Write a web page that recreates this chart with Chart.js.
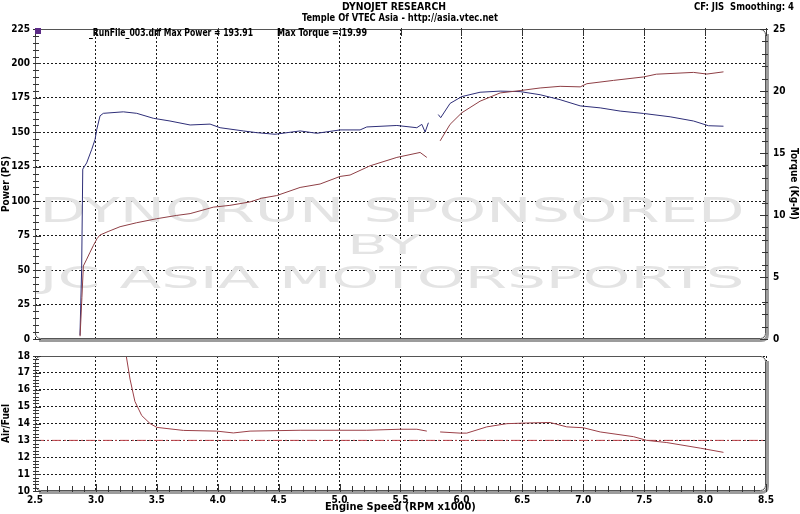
<!DOCTYPE html>
<html>
<head>
<meta charset="utf-8">
<script src="https://cdn.jsdelivr.net/npm/chart.js@4.4.1/dist/chart.umd.min.js"></script>
<style>
    html, body { margin: 0; padding: 0; background: #fff; }
    #wrap { position: relative; width: 800px; height: 514px; overflow: hidden; }
    #topChart { position: absolute; left: 0; top: 0; }
    #afrChart { position: absolute; left: 0; top: 345px; }
</style>
</head>
<body>
<div id="wrap">
    <canvas id="topChart" width="800" height="352"></canvas>
    <canvas id="afrChart" width="800" height="169"></canvas>
</div>
<script>
// [rpm x1000, value] pairs
const powerRun1 = [[2.87, 2], [2.885, 30], [2.897, 53], [2.925, 58], [2.952, 63], [2.98, 68], [3.01, 73],
    [3.034, 75.5], [3.1, 78], [3.198, 81.5], [3.335, 84.4], [3.499, 87.3], [3.663, 89.7], [3.773, 91],
    [3.964, 95.7], [4.1, 97], [4.265, 99.5], [4.361, 102.2], [4.484, 104.1], [4.676, 110], [4.84, 112.5],
    [5.004, 118], [5.086, 119], [5.25, 125.7], [5.47, 131.8], [5.661, 135.4], [5.716, 131.8]];
const powerRun2 = [[5.825, 143.8], [5.907, 155.8], [6.003, 164.2], [6.153, 172.6], [6.318, 178.6],
    [6.482, 180.3], [6.646, 182.2], [6.81, 183.4], [6.975, 183], [7.03, 185.3], [7.248, 187.7],
    [7.494, 190.2], [7.6, 192.2], [7.905, 193.5], [8.015, 192.3], [8.151, 193.9]];
const torqueRun1 = [[2.869, 0.3], [2.883, 5.7], [2.892, 13.7], [2.924, 14.2], [2.966, 15.3], [2.993, 16.1],
    [3.007, 16.9], [3.034, 18.0], [3.061, 18.2], [3.225, 18.32], [3.335, 18.2], [3.471, 17.8],
    [3.608, 17.58], [3.773, 17.26], [3.937, 17.33], [4.019, 17.04], [4.21, 16.78], [4.32, 16.64],
    [4.47, 16.51], [4.676, 16.78], [4.813, 16.59], [5.004, 16.86], [5.168, 16.86], [5.223, 17.1],
    [5.47, 17.22], [5.634, 17.04], [5.675, 17.31], [5.702, 16.69], [5.729, 17.44]];
const torqueRun2 = [[5.81, 18.1], [5.83, 17.85], [5.907, 19.0], [6.003, 19.55], [6.153, 19.9],
    [6.318, 19.99], [6.482, 19.95], [6.646, 19.7], [6.81, 19.3], [6.975, 18.8], [7.139, 18.64],
    [7.303, 18.38], [7.494, 18.19], [7.713, 17.92], [7.905, 17.58], [8.028, 17.2], [8.151, 17.16]];
const afrRun1 = [[3.24, 18.4], [3.28, 16.63], [3.32, 15.31], [3.376, 14.47], [3.444, 14.0], [3.5, 13.77],
    [3.718, 13.59], [3.99, 13.55], [4.128, 13.44], [4.265, 13.55], [4.676, 13.6], [5.223, 13.6],
    [5.497, 13.66], [5.634, 13.66], [5.716, 13.55]];
const afrRun2 = [[5.825, 13.5], [5.989, 13.43], [6.044, 13.43], [6.208, 13.8], [6.373, 13.99],
    [6.537, 14.03], [6.728, 14.06], [6.865, 13.8], [7.0, 13.75], [7.139, 13.5], [7.412, 13.22],
    [7.522, 13.0], [7.686, 12.87], [7.96, 12.54], [8.151, 12.29]];
const afrTarget = 13.0;

const rpmRange = [2.5, 8.5];
const powerRange = [0, 225];
const torqueRange = [0, 25];
const afrRange = [10, 18];

const fontFam = '"DejaVu Sans Condensed", "DejaVu Sans", sans-serif';
const boldFont = size => ({ family: fontFam, size: size, weight: 'bold' });
const pts = a => a.map(p => ({ x: p[0], y: p[1] }));

const powerColor = '#8e3f45';
const torqueColor = '#2e2e78';
const afrColor = '#9b4048';

function lineSet(label, data, color, axis) {
    return { label: label, data: pts(data), yAxisID: axis, borderColor: color, borderWidth: 1,
        pointRadius: 0, tension: 0, fill: false };
}

// frame with dark edge plus grey shadow on right/bottom
function drawFrame(ctx, a) {
    const L = a.left, T = a.top, R = a.right, B = a.bottom;
    ctx.save();
    ctx.strokeStyle = '#9c9c9c';
    ctx.lineWidth = 3;
    ctx.beginPath();
    ctx.moveTo(R + 1.5, T + 5);
    ctx.lineTo(R + 1.5, B - 5);
    ctx.quadraticCurveTo(R + 1.5, B + 1.5, R - 5, B + 1.5);
    ctx.lineTo(L + 4, B + 1.5);
    ctx.stroke();
    ctx.strokeStyle = '#555';
    ctx.lineWidth = 1;
    ctx.beginPath();
    ctx.roundRect(L + 0.5, T + 0.5, R - L - 1, B - T - 1, 5);
    ctx.stroke();
    ctx.restore();
}

function yTicks(ctx, scale, a, from, to, step, major, side) {
    ctx.save();
    ctx.strokeStyle = '#333';
    ctx.lineWidth = 1;
    ctx.beginPath();
    for (let v = from; v <= to + 1e-6; v += step) {
        const y = Math.round(scale.getPixelForValue(v)) + 0.5;
        const isMajor = Math.abs(v / major - Math.round(v / major)) < 1e-6;
        const len = isMajor ? 6 : 4;
        if (side === 'left') { ctx.moveTo(a.left - 2, y); ctx.lineTo(a.left + len, y); }
        else { ctx.moveTo(a.right + 2, y); ctx.lineTo(a.right - len, y); }
    }
    ctx.stroke();
    ctx.restore();
}

function xTicks(ctx, scale, y0, dir, step, major) {
    ctx.save();
    ctx.strokeStyle = '#333';
    ctx.lineWidth = 1;
    ctx.beginPath();
    for (let v = rpmRange[0]; v <= rpmRange[1] + 1e-6; v += step) {
        const x = Math.round(scale.getPixelForValue(v)) + 0.5;
        const isMajor = Math.abs(v / major - Math.round(v / major)) < 1e-6;
        const len = isMajor ? 6 : 4;
        ctx.moveTo(x, y0 - dir * 2);
        ctx.lineTo(x, y0 + dir * len);
    }
    ctx.stroke();
    ctx.restore();
}

function watermarkLine(ctx, text, cx, cy, size, width) {
    ctx.save();
    ctx.font = size + 'px "DejaVu Sans", sans-serif';
    ctx.textAlign = 'center';
    ctx.textBaseline = 'middle';
    const w = ctx.measureText(text).width;
    ctx.translate(cx, cy);
    ctx.scale(width / w, 1);
    ctx.fillStyle = '#e4e4e4';
    ctx.fillText(text, 0, 0);
    ctx.restore();
}

function text(ctx, s, x, y, align, size, maxW) {
    ctx.save();
    ctx.font = 'bold ' + size + 'px ' + fontFam;
    ctx.fillStyle = '#000';
    ctx.textAlign = align;
    ctx.textBaseline = 'middle';
    ctx.fillText(s, x, y, maxW);
    ctx.restore();
}

const topDecor = {
    id: 'topDecor',
    beforeDatasetsDraw(chart) {
        const ctx = chart.ctx;
        ctx.save();
        ctx.beginPath();
        ctx.rect(chart.chartArea.left, chart.chartArea.top, chart.chartArea.width, chart.chartArea.height);
        ctx.clip();
        watermarkLine(ctx, 'DYNORUN SPONSORED', 392, 213, 34, 705);
        watermarkLine(ctx, 'BY', 384, 247, 27, 74);
        watermarkLine(ctx, 'JC ASIA MOTORSPORTS', 392, 280, 30, 705);
        ctx.restore();
    },
    afterDraw(chart) {
        const ctx = chart.ctx, a = chart.chartArea;
        drawFrame(ctx, a);
        yTicks(ctx, chart.scales.y, a, 0, 225, 5, 25, 'left');
        yTicks(ctx, chart.scales.y2, a, 0, 25, 1, 5, 'right');
        xTicks(ctx, chart.scales.x, a.top + 1, 1, 0.5, 0.5);
        ctx.fillStyle = '#5b2a86';
        ctx.fillRect(a.left, a.top - 1, 6, 6);
        text(ctx, 'DYNOJET RESEARCH', 394, 7, 'center', 11, 104);
        text(ctx, 'Temple Of VTEC Asia - http://asia.vtec.net', 400, 18, 'center', 11, 196);
        text(ctx, 'CF: JIS  Smoothing: 4', 794, 7, 'right', 11, 100);
        text(ctx, '_RunFile_003.drf Max Power = 193.91', 89, 33, 'left', 11, 164);
        text(ctx, 'Max Torque = 19.99', 277, 33, 'left', 11, 90);
    }
};

const afrDecor = {
    id: 'afrDecor',
    afterDraw(chart) {
        const ctx = chart.ctx, a = chart.chartArea;
        drawFrame(ctx, a);
        yTicks(ctx, chart.scales.y, a, 10, 18, 0.2, 1, 'left');
        xTicks(ctx, chart.scales.x, a.bottom - 1, -1, 0.1, 0.5);
    }
};

const gridStyle = { color: '#1a1a1a', lineWidth: 1, drawTicks: false };
const borderStyle = { display: false, dash: [2, 2] };

new Chart(document.getElementById('topChart'), {
    type: 'line',
    data: {
        datasets: [
            lineSet('Power', powerRun1, powerColor, 'y'),
            lineSet('Power', powerRun2, powerColor, 'y'),
            lineSet('Torque', torqueRun1, torqueColor, 'y2'),
            lineSet('Torque', torqueRun2, torqueColor, 'y2')
        ]
    },
    options: {
        responsive: false,
        animation: false,
        layout: { padding: { top: 29 } },
        plugins: { legend: { display: false }, tooltip: { enabled: false } },
        scales: {
            x: {
                type: 'linear', min: rpmRange[0], max: rpmRange[1],
                ticks: { display: false, stepSize: 0.5 },
                grid: gridStyle, border: borderStyle,
                afterFit: s => { s.height = 11; }
            },
            y: {
                position: 'left', min: powerRange[0], max: powerRange[1],
                ticks: { stepSize: 25, color: '#000', font: boldFont(10), padding: 5 },
                grid: gridStyle, border: borderStyle,
                title: { display: true, text: 'Power (PS)', color: '#000', font: boldFont(10), padding: 0 },
                afterFit: s => { s.width = 35; }
            },
            y2: {
                position: 'right', min: torqueRange[0], max: torqueRange[1],
                ticks: { stepSize: 5, color: '#000', font: boldFont(10), padding: 7 },
                grid: { drawOnChartArea: false, drawTicks: false },
                border: { display: false },
                title: { display: true, text: 'Torque (Kg-M)', color: '#000', font: boldFont(10), padding: 0 },
                afterFit: s => { s.width = 34; }
            }
        }
    },
    plugins: [topDecor]
});

new Chart(document.getElementById('afrChart'), {
    type: 'line',
    data: {
        datasets: [
            lineSet('Air/Fuel', afrRun1, afrColor, 'y'),
            lineSet('Air/Fuel', afrRun2, afrColor, 'y'),
            Object.assign(lineSet('Target', [[rpmRange[0], afrTarget], [rpmRange[1], afrTarget]], '#c0444c', 'y'),
                { borderDash: [9, 3, 2, 3] })
        ]
    },
    options: {
        responsive: false,
        animation: false,
        layout: { padding: { top: 4, right: 34 } },
        plugins: { legend: { display: false }, tooltip: { enabled: false } },
        scales: {
            x: {
                type: 'linear', min: rpmRange[0], max: rpmRange[1],
                ticks: { stepSize: 0.5, color: '#000', font: boldFont(10), padding: 3, maxRotation: 0,
                    autoSkip: false, callback: v => v.toFixed(1) },
                grid: gridStyle, border: borderStyle,
                title: { display: true, text: 'Engine Speed (RPM x1000)', color: '#000', font: boldFont(11), padding: 0 },
                afterFit: s => { s.height = 23; }
            },
            y: {
                position: 'left', min: afrRange[0], max: afrRange[1],
                ticks: { stepSize: 1, color: '#000', font: boldFont(10), padding: 5 },
                grid: gridStyle, border: borderStyle,
                title: { display: true, text: 'Air/Fuel', color: '#000', font: boldFont(10), padding: 0 },
                afterFit: s => { s.width = 35; }
            }
        }
    },
    plugins: [afrDecor]
});
</script>
</body>
</html>
